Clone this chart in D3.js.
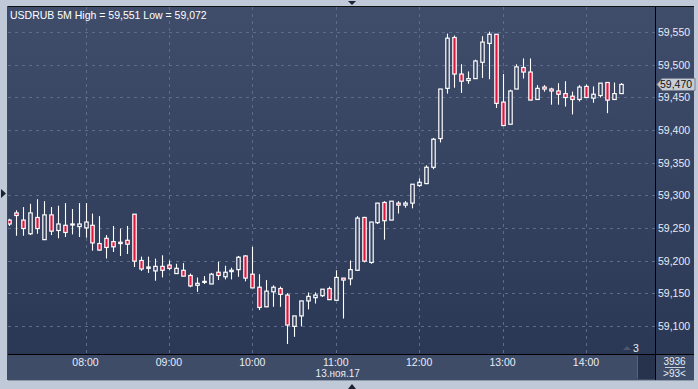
<!DOCTYPE html>
<html>
<head>
<meta charset="utf-8">
<script src="https://cdn.jsdelivr.net/npm/d3@7"></script>
<style>
  body { margin: 0; background: #bfc9d7; }
  svg { display: block; }
  text { font-family: "Liberation Sans", Arial, sans-serif; }
</style>
</head>
<body>
<svg></svg>
<script>
var svgWidth = 698;
var svgHeight = 389;

// USDRUB, 5 minute candles, 13 Nov 2017, first bar 07:05
var firstBar = new Date(2017, 10, 13, 7, 5);
var barMinutes = 5;

var opens = [
  59.262, 59.273, 59.262, 59.241, 59.266, 59.232, 59.270, 59.246, 59.254, 59.255,
  59.252, 59.250, 59.254, 59.226, 59.234, 59.229, 59.226, 59.231, 59.271, 59.200,
  59.188, 59.184, 59.191, 59.193, 59.180, 59.185, 59.177, 59.162, 59.167, 59.164,
  59.182, 59.175, 59.183, 59.186, 59.207, 59.179, 59.159, 59.129, 59.152, 59.157,
  59.147, 59.099, 59.115, 59.138, 59.143, 59.146, 59.157, 59.139, 59.173, 59.172,
  59.185, 59.266, 59.197, 59.258, 59.289, 59.262, 59.288, 59.285, 59.288, 59.315,
  59.318, 59.343, 59.387, 59.464, 59.542, 59.486, 59.476, 59.479, 59.504, 59.533,
  59.547, 59.443, 59.409, 59.463, 59.496, 59.489, 59.447, 59.466, 59.463, 59.460,
  59.456, 59.452, 59.447, 59.467, 59.449, 59.453, 59.473, 59.447, 59.456
];
var highs = [
  59.264, 59.277, 59.282, 59.287, 59.294, 59.291, 59.282, 59.284, 59.288, 59.279,
  59.288, 59.288, 59.272, 59.268, 59.239, 59.253, 59.249, 59.253, 59.271, 59.206,
  59.206, 59.203, 59.208, 59.200, 59.195, 59.196, 59.180, 59.174, 59.176, 59.181,
  59.198, 59.192, 59.189, 59.207, 59.208, 59.221, 59.179, 59.170, 59.162, 59.160,
  59.150, 59.115, 59.138, 59.151, 59.151, 59.156, 59.160, 59.185, 59.173, 59.200,
  59.268, 59.267, 59.259, 59.288, 59.291, 59.291, 59.291, 59.291, 59.317, 59.326,
  59.346, 59.388, 59.463, 59.548, 59.545, 59.501, 59.490, 59.508, 59.544, 59.551,
  59.547, 59.486, 59.462, 59.501, 59.510, 59.510, 59.469, 59.469, 59.465, 59.472,
  59.475, 59.459, 59.469, 59.470, 59.467, 59.472, 59.473, 59.473, 59.472
];
var lows = [
  59.253, 59.238, 59.238, 59.239, 59.241, 59.232, 59.239, 59.234, 59.236, 59.240,
  59.236, 59.235, 59.215, 59.215, 59.203, 59.213, 59.207, 59.210, 59.190, 59.184,
  59.181, 59.169, 59.174, 59.185, 59.180, 59.176, 59.159, 59.152, 59.164, 59.164,
  59.170, 59.171, 59.171, 59.175, 59.168, 59.158, 59.124, 59.129, 59.129, 59.129,
  59.072, 59.083, 59.099, 59.125, 59.134, 59.144, 59.140, 59.139, 59.111, 59.162,
  59.184, 59.197, 59.195, 59.256, 59.232, 59.262, 59.272, 59.281, 59.280, 59.313,
  59.317, 59.340, 59.381, 59.456, 59.465, 59.457, 59.471, 59.479, 59.480, 59.478,
  59.434, 59.407, 59.409, 59.463, 59.479, 59.446, 59.447, 59.459, 59.439, 59.439,
  59.436, 59.424, 59.444, 59.450, 59.442, 59.450, 59.426, 59.446, 59.456
];
var closes = [
  59.256, 59.269, 59.249, 59.273, 59.249, 59.270, 59.245, 59.256, 59.243, 59.256,
  59.256, 59.259, 59.227, 59.216, 59.220, 59.221, 59.228, 59.225, 59.199, 59.187,
  59.190, 59.191, 59.185, 59.188, 59.188, 59.176, 59.161, 59.165, 59.168, 59.179,
  59.177, 59.182, 59.185, 59.205, 59.173, 59.158, 59.128, 59.153, 59.159, 59.148,
  59.101, 59.115, 59.138, 59.145, 59.147, 59.156, 59.140, 59.174, 59.170, 59.186,
  59.265, 59.199, 59.259, 59.288, 59.261, 59.291, 59.285, 59.288, 59.317, 59.320,
  59.343, 59.386, 59.463, 59.541, 59.486, 59.475, 59.479, 59.506, 59.535, 59.547,
  59.441, 59.407, 59.460, 59.497, 59.489, 59.446, 59.464, 59.463, 59.460, 59.455,
  59.450, 59.447, 59.466, 59.450, 59.455, 59.472, 59.446, 59.456, 59.470
];

var priceTicks = [59.100, 59.150, 59.200, 59.250, 59.300, 59.350, 59.400, 59.450, 59.500, 59.550];
var priceLabels = ["59,100", "59,150", "59,200", "59,250", "59,300", "59,350", "59,400", "59,450", "59,500", "59,550"];
var hourTicks = [8, 9, 10, 11, 12, 13, 14];
var hourLabels = ["08:00", "09:00", "10:00", "11:00", "12:00", "13:00", "14:00"];
var dateLabel = "13.ноя.17";
var title = "USDRUB 5M High = 59,551 Low = 59,072";
var lastPrice = 59.470;
var lastLabel = "59,470";

var plotLeft = 8, plotRight = 655, plotTop = 7, plotBottom = 354;
var panelRight = 694, panelBottom = 380;

var svg = d3.select("svg")
  .attr("width", svgWidth)
  .attr("height", svgHeight);

var bars = opens.map(function(o, i) {
  return {
    t: new Date(firstBar.getTime() + i * barMinutes * 60000),
    o: o, h: highs[i], l: lows[i], c: closes[i]
  };
});

var x = d3.scaleTime()
  .domain([new Date(2017, 10, 13, 7, 4, 15), new Date(2017, 10, 13, 14, 49, 38)])
  .range([plotLeft, plotRight]);

var y = d3.scaleLinear()
  .domain([59.0566, 59.5888])
  .range([plotBottom, plotTop]);

// backgrounds
var grad = svg.append("defs").append("linearGradient")
  .attr("id", "bg").attr("x1", 0).attr("y1", 0).attr("x2", 0).attr("y2", 1);
grad.append("stop").attr("offset", "0%").attr("stop-color", "#3f4d6b");
grad.append("stop").attr("offset", "100%").attr("stop-color", "#2b3855");

svg.append("rect").attr("width", svgWidth).attr("height", svgHeight).attr("fill", "#bfc9d7");
svg.append("rect")
  .attr("x", plotLeft).attr("y", plotTop)
  .attr("width", panelRight - plotLeft).attr("height", plotBottom - plotTop)
  .attr("fill", "url(#bg)");
svg.append("rect")
  .attr("x", plotLeft).attr("y", plotBottom)
  .attr("width", panelRight - plotLeft).attr("height", panelBottom - plotBottom)
  .attr("fill", "#3e4c68");
// scroll thumb
svg.append("rect")
  .attr("x", 638).attr("y", plotBottom + 1)
  .attr("width", plotRight - 638).attr("height", panelBottom - plotBottom - 2)
  .attr("fill", "#27324c");
svg.append("line")
  .attr("x1", 637.5).attr("x2", 637.5).attr("y1", plotBottom + 2).attr("y2", panelBottom - 2)
  .attr("stroke", "#56637c");

// grid
var grid = svg.append("g").attr("stroke", "#5d6c8a").attr("stroke-dasharray", "3,4").attr("stroke-width", 1);
grid.selectAll(".hg").data(priceTicks).enter().append("line")
  .attr("x1", plotLeft).attr("x2", plotRight)
  .attr("y1", function(d) { return Math.round(y(d)) + 0.5; })
  .attr("y2", function(d) { return Math.round(y(d)) + 0.5; });
grid.selectAll(".vg").data(hourTicks).enter().append("line")
  .attr("y1", plotTop).attr("y2", plotBottom)
  .attr("x1", function(d) { return Math.round(x(new Date(2017, 10, 13, d, 0))) + 0.5; })
  .attr("x2", function(d) { return Math.round(x(new Date(2017, 10, 13, d, 0))) + 0.5; });

// candles
var candles = svg.append("g");
var g = candles.selectAll("g").data(bars).enter().append("g");
g.append("line")
  .attr("x1", function(d) { return Math.round(x(d.t)) + 0.5; })
  .attr("x2", function(d) { return Math.round(x(d.t)) + 0.5; })
  .attr("y1", function(d) { return y(d.h); })
  .attr("y2", function(d) { return y(d.l); })
  .attr("stroke", "#ffffff").attr("stroke-width", 1.1);
g.append("rect")
  .attr("x", function(d) { return Math.round(x(d.t)) + 0.5 - 1.7; })
  .attr("width", 3.4)
  .attr("y", function(d) { return y(Math.max(d.o, d.c)); })
  .attr("height", function(d) { return Math.max(1, Math.abs(y(d.o) - y(d.c))); })
  .attr("fill", function(d) { return d.c < d.o ? "#e0153d" : "#34425f"; })
  .attr("stroke", "#ffffff").attr("stroke-width", 1.2);

// frame lines
svg.append("line").attr("x1", plotLeft - 1).attr("x2", panelRight).attr("y1", plotTop - 0.5).attr("y2", plotTop - 0.5)
  .attr("stroke", "#111");
svg.append("line").attr("x1", plotLeft - 0.5).attr("x2", plotLeft - 0.5).attr("y1", plotTop - 1).attr("y2", panelBottom)
  .attr("stroke", "#444b58");
svg.append("line").attr("x1", plotRight + 0.5).attr("x2", plotRight + 0.5).attr("y1", plotTop).attr("y2", panelBottom)
  .attr("stroke", "#000");
svg.append("line").attr("x1", plotLeft).attr("x2", panelRight).attr("y1", plotBottom + 0.5).attr("y2", plotBottom + 0.5)
  .attr("stroke", "#000");
svg.append("line").attr("x1", plotLeft).attr("x2", panelRight).attr("y1", panelBottom + 0.5).attr("y2", panelBottom + 0.5)
  .attr("stroke", "#8e99aa");

// price axis labels
svg.append("g").selectAll("text").data(priceTicks).enter().append("text")
  .attr("x", plotRight + 3)
  .attr("y", function(d) { return y(d) + 4; })
  .attr("font-size", "10.5px")
  .attr("fill", "#e6ecf6")
  .text(function(d, i) { return priceLabels[i]; });

// last price marker
var ly = y(lastPrice);
svg.append("path")
  .attr("d", "M" + (plotRight + 2) + "," + ly + "L" + (plotRight + 7) + "," + (ly - 6) + "L" + (panelRight + 1) + "," + (ly - 6) +
    "L" + (panelRight + 1) + "," + (ly + 6) + "L" + (plotRight + 7) + "," + (ly + 6) + "Z")
  .attr("fill", "#c6cdd7").attr("stroke", "#7a8190");
svg.append("text")
  .attr("x", plotRight + 5).attr("y", ly + 4)
  .attr("font-size", "10.5px").attr("fill", "#111")
  .text(lastLabel);

// time axis labels
svg.append("g").selectAll("text").data(hourTicks).enter().append("text")
  .attr("x", function(d) { return x(new Date(2017, 10, 13, d, 0)); })
  .attr("y", plotBottom + 12)
  .attr("text-anchor", "middle")
  .attr("font-size", "10.5px")
  .attr("fill", "#e6ecf6")
  .text(function(d, i) { return hourLabels[i]; });
svg.append("text")
  .attr("x", x(new Date(2017, 10, 13, 11, 0)) + 2).attr("y", plotBottom + 23)
  .attr("text-anchor", "middle").attr("font-size", "10px").attr("fill", "#e6ecf6")
  .text(dateLabel);

// title
svg.append("text")
  .attr("x", plotLeft + 2).attr("y", plotTop + 12)
  .attr("font-size", "10.5px").attr("fill", "#ffffff")
  .text(title);

// corner cell
svg.append("text").attr("x", 674.5).attr("y", 365).attr("text-anchor", "middle")
  .attr("font-size", "10px").attr("fill", "#e6ecf6").text("3936");
svg.append("line").attr("x1", 665).attr("x2", 685).attr("y1", 367.5).attr("y2", 367.5).attr("stroke", "#c8d0dc");
svg.append("text").attr("x", 674.5).attr("y", 377).attr("text-anchor", "middle")
  .attr("font-size", "10px").attr("fill", "#e6ecf6").text(">93<");

// "3" marker near bottom right of plot
svg.append("path").attr("d", "M623,350L627,346L631,350Z").attr("fill", "#4a5672");
svg.append("text").attr("x", 633).attr("y", 352).attr("font-size", "10.5px").attr("fill", "#e6ecf6").text("3");

// border arrows
svg.append("path").attr("d", "M1,189L6,193.5L1,198Z").attr("fill", "#1c2130");
svg.append("path").attr("d", "M348,1L356,1L352,5Z").attr("fill", "#1c2130");
svg.append("path").attr("d", "M348,389L356,389L352,384Z").attr("fill", "#1c2130");
</script>
</body>
</html>
